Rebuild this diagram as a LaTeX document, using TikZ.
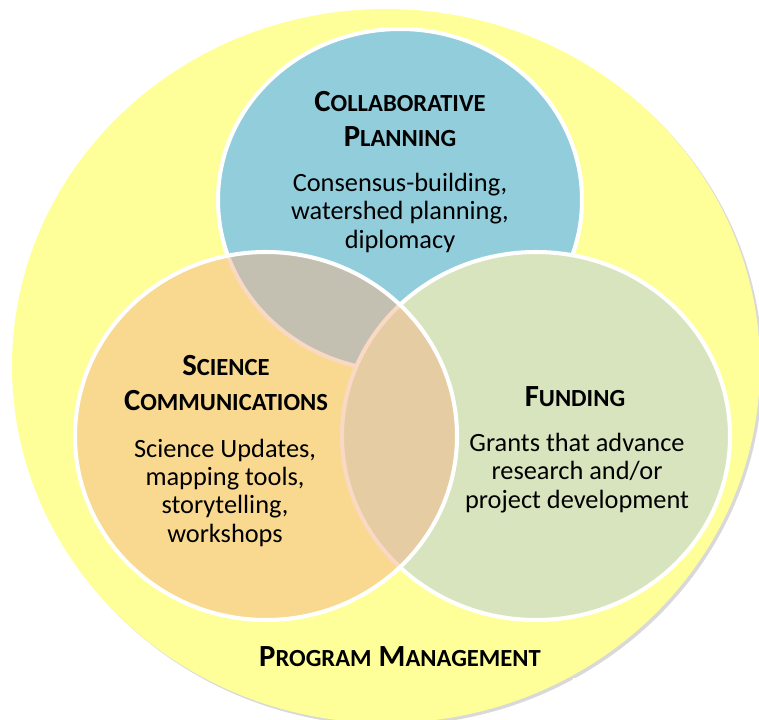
\documentclass[tikz,border=0pt]{standalone}
\usepackage{fontspec}
\setmainfont{Carlito}
\usepackage{xcolor}
\usepackage{tikz}
\usetikzlibrary{shadows}
\definecolor{pmyellow}{HTML}{FFFF99}
\definecolor{planblue}{HTML}{92CDDC}
\definecolor{fundgreen}{HTML}{D7E4BD}
\definecolor{scipeach}{HTML}{F5B589}
\tikzstyle{venn} = [draw=white, line width=2.3pt]
\tikzstyle{head} = [font=\bfseries\fontsize{17.5}{19.8}\selectfont, align=center, anchor=base]
\tikzstyle{body} = [font=\fontsize{15}{16}\selectfont, align=center, anchor=base]
\newcommand{\smc}[1]{{\fontsize{14}{19.8}\selectfont #1}}

\begin{document}
\begin{tikzpicture}[x=0.02cm, y=-0.02cm]
    \useasboundingbox (0,0) rectangle (759,719);
    \fill[pmyellow, drop shadow={shadow xshift=1.5pt, shadow yshift=-1.5pt, opacity=0.3}] (386,366) ellipse [x radius=374, y radius=357];
    \draw[venn, fill=planblue] (400,200) ellipse [x radius=182, y radius=171];
    \draw[venn, fill=fundgreen] (536,436) ellipse [x radius=194, y radius=184];
    \draw[venn, fill=scipeach, fill opacity=0.5] (266,436) ellipse [x radius=191, y radius=184];
    \fill[white] (573,678) rectangle (759,719);

    \node(plan)[head] at (400,146.7) {C\smc{OLLABORATIVE}\\P\smc{LANNING}};
    \node(plantext)[body] at (400,248) {Consensus-building,\\watershed planning,\\diplomacy};
    \node(sci)[head] at (226,410) {S\smc{CIENCE}\\C\smc{OMMUNICATIONS}};
    \node(scitext)[body] at (225,542) {Science Updates,\\mapping tools,\\storytelling,\\workshops};
    \node(fund)[head] at (575,406) {F\smc{UNDING}};
    \node(fundtext)[body] at (577,508) {Grants that advance\\research and/or\\project development};
    \node(prog)[head] at (400,666.7) {P\smc{ROGRAM} M\smc{ANAGEMENT}};
  \end{tikzpicture}
\end{document}
